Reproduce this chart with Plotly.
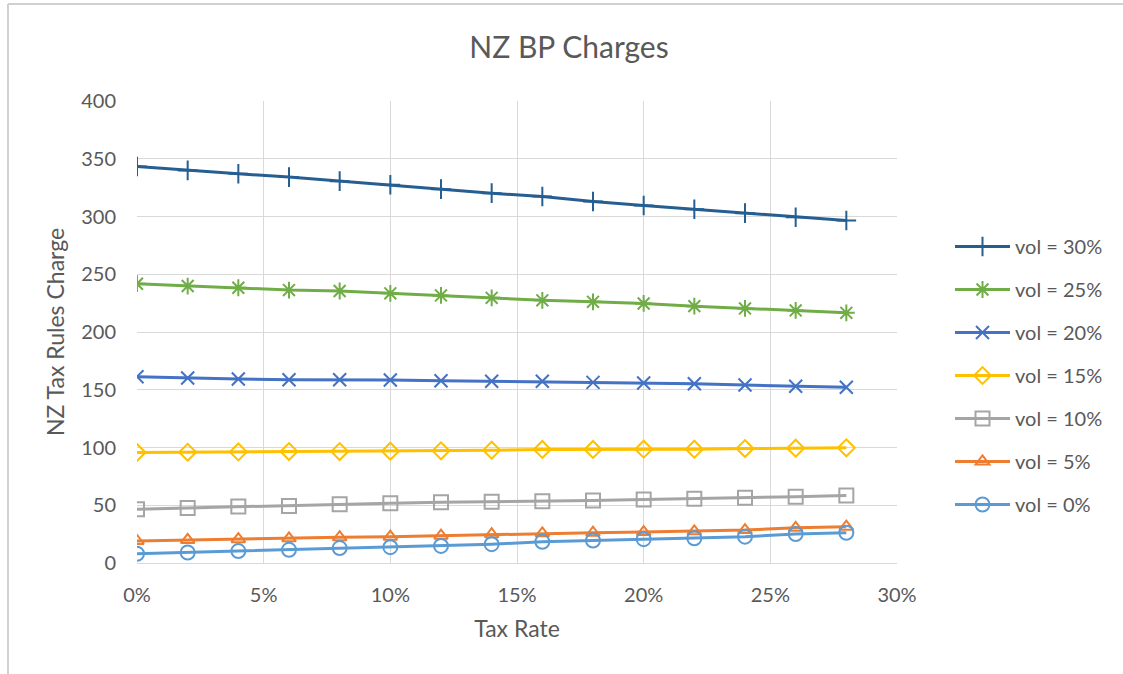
import plotly.graph_objects as go

tax_rate = [0.00, 0.02, 0.04, 0.06, 0.08, 0.10, 0.12, 0.14, 0.16, 0.18, 0.20, 0.22, 0.24, 0.26, 0.28]

vol_30 = [343.3, 339.9, 337.0, 334.1, 330.6, 327.5, 323.7, 320.2, 317.3, 313.0, 309.5, 306.3, 302.9, 299.4, 296.5]
vol_25 = [241.8, 239.8, 238.3, 236.3, 235.5, 233.5, 231.7, 229.6, 227.4, 226.1, 224.7, 222.4, 220.4, 218.7, 216.6]
vol_20 = [161.3, 160.2, 159.3, 158.7, 158.7, 158.4, 157.8, 157.3, 157.3, 156.4, 155.8, 155.2, 154.1, 153.0, 152.1]
vol_15 = [95.7, 95.9, 96.2, 96.5, 96.5, 96.8, 97.1, 97.7, 98.3, 98.3, 98.5, 98.5, 99.1, 99.4, 99.7]
vol_10 = [46.6, 47.7, 48.9, 49.4, 50.9, 51.8, 52.6, 53.0, 53.5, 54.2, 54.9, 55.6, 56.5, 57.4, 58.4]
vol_5 = [19.1, 20.0, 20.6, 21.4, 22.3, 22.8, 23.7, 24.9, 25.7, 26.2, 26.8, 27.4, 28.5, 30.5, 31.4]
vol_0 = [8.0, 9.1, 10.3, 11.4, 12.9, 13.7, 14.8, 16.3, 18.3, 19.4, 20.6, 21.4, 22.8, 25.1, 26.2]

series_names = ["vol = 30%", "vol = 25%", "vol = 20%", "vol = 15%", "vol = 10%", "vol = 5%", "vol = 0%"]
series_values = [vol_30, vol_25, vol_20, vol_15, vol_10, vol_5, vol_0]
series_colors = ["#255E91", "#70AD47", "#4472C4", "#FFC000", "#A5A5A5", "#ED7D31", "#5B9BD5"]
series_symbols = ["cross-thin-open", "asterisk-open", "x-thin-open", "diamond-open",
                  "square-open", "triangle-up-open", "circle-open"]
series_sizes = [14, 14, 13, 13, 14, 12, 14]

FONT = "Lato"
TXT = "#595959"

W, H = 1123, 674
ML, MR, MT, MB = 137, 226, 101, 111
PW, PH = W - ML - MR, H - MT - MB

fig = go.Figure()
for i, (name, vals, col, sym, sz) in enumerate(zip(series_names, series_values, series_colors,
                                                     series_symbols, series_sizes)):
    fig.add_trace(go.Scatter(
        x=tax_rate, y=vals, name=name, mode="lines+markers",
        line=dict(color=col, width=3),
        marker=dict(symbol=sym, size=sz, color=col, line=dict(color=col, width=2)),
        legendgroup=f"g{i}",
    ))

border_y = (H - MB - 4) / PH
border_x = (8 - ML) / PW
fig.update_layout(
    width=W, height=H,
    margin=dict(l=ML, r=MR, t=MT, b=MB),
    paper_bgcolor="white", plot_bgcolor="white",
    font=dict(family=FONT, color=TXT, size=20),
    title=dict(text="NZ BP Charges", x=569 / W, xanchor="center", y=1 - 47 / H, yanchor="middle",
               font=dict(family=FONT, size=30, color=TXT)),
    legend=dict(x=(950 - ML) / PW, xanchor="left", y=1 - (227 - MT) / PH, yanchor="top",
                font=dict(family=FONT, size=20, color=TXT),
                traceorder="grouped", tracegroupgap=14, itemwidth=55,
                bgcolor="rgba(0,0,0,0)"),
    shapes=[
        dict(type="line", xref="paper", yref="paper", x0=border_x, x1=(W - ML) / PW,
             y0=border_y, y1=border_y, line=dict(color="#D0D0D0", width=2)),
        dict(type="line", xref="paper", yref="paper", x0=border_x, x1=border_x,
             y0=-MB / PH, y1=border_y, line=dict(color="#D0D0D0", width=2)),
    ],
)

fig.update_xaxes(
    range=[0, 0.30], dtick=0.05, tick0=0, tickformat=".0%",
    showgrid=True, gridcolor="#D9D9D9", gridwidth=1,
    showline=True, linecolor="#D9D9D9", linewidth=1,
    zeroline=False, ticks="", ticklabelstandoff=14,
    tickfont=dict(family=FONT, size=20, color=TXT),
    title=dict(text="Tax Rate", font=dict(family=FONT, size=23, color=TXT), standoff=15),
)
fig.update_yaxes(
    range=[0, 400], dtick=50, tick0=0,
    showgrid=True, gridcolor="#D9D9D9", gridwidth=1,
    showline=False, zeroline=False, ticks="", ticklabelstandoff=20,
    tickfont=dict(family=FONT, size=20, color=TXT),
    title=dict(text="NZ Tax Rules Charge", font=dict(family=FONT, size=23, color=TXT), standoff=10),
)

fig.write_html(
    "out.html",
    config={"displayModeBar": False},
    post_script="document.body.style.margin='0';document.body.style.padding='0';"
                "document.documentElement.style.overflow='hidden';",
)
